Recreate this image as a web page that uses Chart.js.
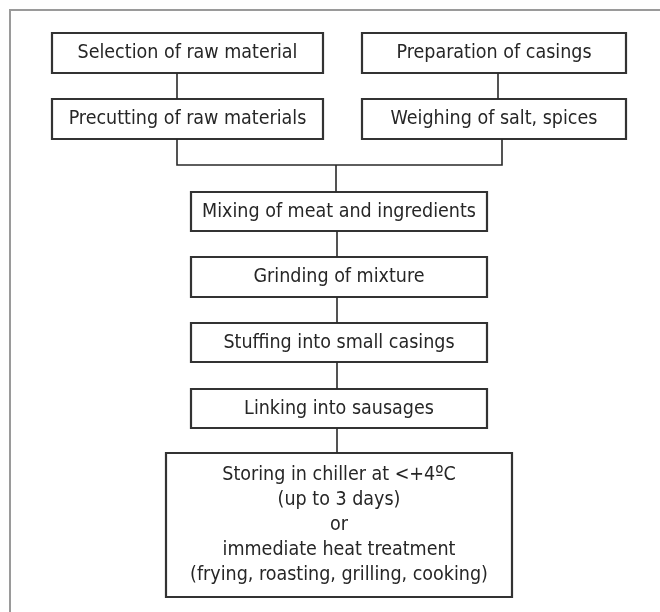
<!DOCTYPE html>
<html>
<head>
<meta charset="utf-8">
<script src="https://cdn.jsdelivr.net/npm/chart.js@4"></script>
<style>
html,body{margin:0;padding:0;background:#fff;}
#wrap{width:660px;height:612px;}
</style>
</head>
<body>
<div id="wrap"><canvas id="c" width="660" height="612"></canvas></div>
<script>
// ---- Flowchart content (step labels, one line per array entry) ----
const stepSelection   = ['Selection of raw material'];
const stepPreparation = ['Preparation of casings'];
const stepPrecutting  = ['Precutting of raw materials'];
const stepWeighing    = ['Weighing of salt, spices'];
const stepMixing      = ['Mixing of meat and ingredients'];
const stepGrinding    = ['Grinding of mixture'];
const stepStuffing    = ['Stuffing into small casings'];
const stepLinking     = ['Linking into sausages'];
const stepFinal       = ['Storing in chiller at <+4ºC', '(up to 3 days)', 'or',
                         'immediate heat treatment', '(frying, roasting, grilling, cooking)'];
const steps = [stepSelection, stepPreparation, stepPrecutting, stepWeighing,
               stepMixing, stepGrinding, stepStuffing, stepLinking, stepFinal];

// ---- Layout in diagram units ----
const boxLeft   = [52, 362, 52, 362, 191, 191, 191, 191, 166];
const boxRight  = [323, 626, 323, 626, 487, 487, 487, 487, 512];
const boxTop    = [33, 33, 99, 99, 192, 257, 323, 389, 453];
const boxBottom = [73, 73, 139, 139, 231, 297, 362, 428, 597];

// connectors: polylines of [x, y] in diagram units
const connectors = [
  [[177, 73], [177, 99]],
  [[498, 73], [498, 99]],
  [[177, 139], [177, 165], [502, 165], [502, 139]],
  [[336, 165], [336, 192]],
  [[337, 231], [337, 257]],
  [[337, 297], [337, 323]],
  [[337, 362], [337, 389]],
  [[337, 428], [337, 453]]
];
const frame = [[10, 612], [10, 10], [660, 10]];

const FONT = '"DejaVu Sans Condensed", "DejaVu Sans", Verdana, sans-serif';

const datasets = [];
datasets.push({
  data: frame.map(p => ({x: p[0], y: p[1]})),
  showLine: true, borderColor: '#9a9a9a', borderWidth: 2, pointRadius: 0, fill: false, clip: false
});
connectors.forEach(c => datasets.push({
  data: c.map(p => ({x: p[0], y: p[1]})),
  showLine: true, borderColor: '#2a2a2a', borderWidth: 1.6, pointRadius: 0, fill: false, clip: false
}));
steps.forEach((s, i) => datasets.push({
  data: [
    {x: boxLeft[i], y: boxTop[i]}, {x: boxRight[i], y: boxTop[i]},
    {x: boxRight[i], y: boxBottom[i]}, {x: boxLeft[i], y: boxBottom[i]},
    {x: boxLeft[i], y: boxTop[i]}
  ],
  showLine: true, borderColor: '#333333', borderWidth: 2.2, pointRadius: 0,
  fill: false, clip: false, borderJoinStyle: 'miter', borderCapStyle: 'square'
}));

const labelPlugin = {
  id: 'boxLabels',
  afterDatasetsDraw(chart) {
    const ctx = chart.ctx, xs = chart.scales.x, ys = chart.scales.y;
    ctx.save();
    ctx.fillStyle = '#262626';
    ctx.textAlign = 'center';
    ctx.textBaseline = 'middle';
    ctx.font = '19.5px ' + FONT;
    steps.forEach((lines, i) => {
      const cx = xs.getPixelForValue((boxLeft[i] + boxRight[i]) / 2);
      const cy = ys.getPixelForValue((boxTop[i] + boxBottom[i]) / 2);
      const lh = 25;
      const start = cy - (lines.length - 1) * lh / 2;
      lines.forEach((t, k) => ctx.fillText(t, cx, start + k * lh));
    });
    ctx.restore();
  }
};

new Chart(document.getElementById('c'), {
  type: 'scatter',
  data: {datasets},
  options: {
    responsive: false,
    maintainAspectRatio: false,
    animation: false,
    layout: {padding: 0},
    plugins: {legend: {display: false}, tooltip: {enabled: false}},
    scales: {
      x: {type: 'linear', min: 0, max: 660, display: false},
      y: {type: 'linear', min: 0, max: 612, reverse: true, display: false}
    }
  },
  plugins: [labelPlugin]
});
</script>
</body>
</html>
